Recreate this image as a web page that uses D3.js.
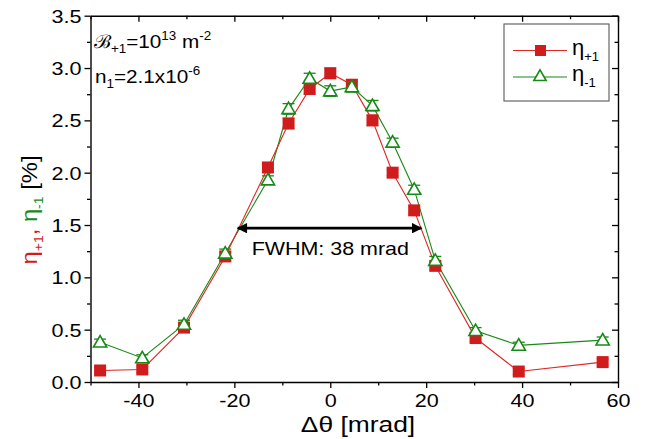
<!DOCTYPE html>
<html>
<head>
<meta charset="utf-8">
<script src="https://cdn.jsdelivr.net/npm/d3@7"></script>
<style>
  body { margin: 0; background: #fff; }
  text { font-family: "Liberation Sans", Arial, sans-serif; }
</style>
</head>
<body>
<svg id="chart" width="645" height="439"></svg>
<script>
// data
const dTheta = [-48, -39.2, -30.5, -21.9, -13, -8.7, -4.3, 0, 4.5, 8.8, 13, 17.5, 21.9, 30.3, 39.3, 56.8];
const etaPlus = [0.11, 0.12, 0.52, 1.20, 2.05, 2.47, 2.80, 2.95, 2.84, 2.50, 2.00, 1.64, 1.11, 0.42, 0.10, 0.19];
const etaMinus = [0.38, 0.23, 0.55, 1.23, 1.93, 2.61, 2.90, 2.78, 2.82, 2.64, 2.29, 1.84, 1.16, 0.49, 0.35, 0.40];
const errPlus = [0.03, 0.03, 0.04, 0.04, 0.04, 0.05, 0.05, 0.05, 0.05, 0.05, 0.03, 0.04, 0.04, 0.03, 0.03, 0.03];
const errMinus = [0.03, 0.03, 0.04, 0.04, 0.04, 0.05, 0.05, 0.05, 0.05, 0.05, 0.04, 0.04, 0.04, 0.03, 0.03, 0.03];
const xTicks = [-50, -40, -30, -20, -10, 0, 10, 20, 30, 40, 50, 60];
const yTicks = [0, 0.25, 0.5, 0.75, 1, 1.25, 1.5, 1.75, 2, 2.25, 2.5, 2.75, 3, 3.25, 3.5];
const fwhm = [-19.3, 19];   // arrow ends
const fwhmY = 1.47;

const RED = "#d01c1c", RED_LINE = "#e02525", RED_ERR = "#ec8a8a";
const GREEN = "#168a16";
const SX = 1.2;   // the original font is wider than Arial

const svg = d3.select("#chart");
const L = 90.5, R = 618, T = 15.7, B = 382;

const x = d3.scaleLinear().domain([-50, 60]).range([L, R]);
const y = d3.scaleLinear().domain([0, 3.5]).range([B, T]);

const isMajorX = v => v % 20 === 0;
const isMajorY = v => Math.abs(v * 2 - Math.round(v * 2)) < 1e-9;

function styleAxis(g) {
  g.select(".domain").attr("stroke", "#000").attr("stroke-width", 1.4);
  g.selectAll(".tick line").attr("stroke", "#000").attr("stroke-width", 1.3);
  g.selectAll(".tick text").attr("font-size", 18).attr("fill", "#000");
}

// bottom axis
const gB = svg.append("g").attr("transform", `translate(0,${B})`)
  .call(d3.axisBottom(x).tickValues(xTicks).tickSizeOuter(0)
    .tickFormat(v => isMajorX(v) ? String(v) : ""));
styleAxis(gB);
gB.selectAll(".tick line").attr("y2", d => isMajorX(d) ? 6 : 3.5);
gB.selectAll(".tick text").attr("y", 12).attr("transform", `scale(${SX},1)`);

// top axis (inward ticks)
const gT = svg.append("g").attr("transform", `translate(0,${T})`)
  .call(d3.axisTop(x).tickValues(xTicks).tickSizeOuter(0).tickFormat(""));
styleAxis(gT);
gT.selectAll(".tick line").attr("y2", d => isMajorX(d) ? 6 : 3.5);

// left axis
const gL = svg.append("g").attr("transform", `translate(${L},0)`)
  .call(d3.axisLeft(y).tickValues(yTicks).tickSizeOuter(0)
    .tickFormat(v => isMajorY(v) ? d3.format(".1f")(v) : ""));
styleAxis(gL);
gL.selectAll(".tick line").attr("x2", d => isMajorY(d) ? -6 : -3.5);
gL.selectAll(".tick text").attr("x", -9 / SX).attr("dy", "0.36em").attr("transform", `scale(${SX},1)`);

// right axis (inward ticks)
const gR = svg.append("g").attr("transform", `translate(${R},0)`)
  .call(d3.axisRight(y).tickValues(yTicks).tickSizeOuter(0).tickFormat(""));
styleAxis(gR);
gR.selectAll(".tick line").attr("x2", d => isMajorY(d) ? -6 : -3.5);

// series
const idx = d3.range(dTheta.length);
const line = vals => d3.line().x(i => x(dTheta[i])).y(i => y(vals[i]))(idx);

svg.append("path").attr("d", line(etaMinus)).attr("fill", "none")
  .attr("stroke", GREEN).attr("stroke-width", 1.1);
svg.append("path").attr("d", line(etaPlus)).attr("fill", "none")
  .attr("stroke", RED_LINE).attr("stroke-width", 1.1);

function errorBars(vals, errs, color) {
  const g = svg.append("g").attr("stroke", color).attr("stroke-width", 1.3);
  idx.forEach(i => {
    const cx = x(dTheta[i]);
    const y1 = y(vals[i] + errs[i]), y2 = y(vals[i] - errs[i]);
    g.append("line").attr("x1", cx).attr("x2", cx).attr("y1", y1).attr("y2", y2);
    g.append("line").attr("x1", cx - 6).attr("x2", cx + 6).attr("y1", y1).attr("y2", y1);
    g.append("line").attr("x1", cx - 6).attr("x2", cx + 6).attr("y1", y2).attr("y2", y2);
  });
}

errorBars(etaPlus, errPlus, RED_ERR);
svg.append("g").selectAll("rect").data(idx).join("rect")
  .attr("x", i => x(dTheta[i]) - 6).attr("y", i => y(etaPlus[i]) - 6)
  .attr("width", 12).attr("height", 12).attr("fill", RED);

const tri = d3.symbol().type(d3.symbolTriangle).size(76);
errorBars(etaMinus, errMinus, GREEN);
svg.append("g").selectAll("path").data(idx).join("path")
  .attr("d", tri)
  .attr("transform", i => `translate(${x(dTheta[i])},${y(etaMinus[i]) + 1})`)
  .attr("fill", "#fff").attr("stroke", GREEN).attr("stroke-width", 1.6);

// FWHM arrow
const defs = svg.append("defs");
defs.append("marker").attr("id", "ah").attr("viewBox", "0 0 10 10")
  .attr("refX", 9).attr("refY", 5).attr("markerWidth", 5).attr("markerHeight", 4)
  .attr("orient", "auto-start-reverse").attr("markerUnits", "strokeWidth")
  .append("path").attr("d", "M0,0 L10,5 L0,10 Z").attr("fill", "#000");
svg.append("line")
  .attr("x1", x(fwhm[0])).attr("x2", x(fwhm[1]))
  .attr("y1", y(fwhmY)).attr("y2", y(fwhmY))
  .attr("stroke", "#000").attr("stroke-width", 2.6)
  .attr("marker-start", "url(#ah)").attr("marker-end", "url(#ah)");
svg.append("text")
  .attr("transform", `translate(${x(0)},${y(fwhmY) + 27}) scale(1.16,1)`)
  .attr("text-anchor", "middle").attr("font-size", 18.5).text("FWHM: 38 mrad");

// parameter annotation
const ann = svg.append("g").attr("font-size", 18.5).attr("fill", "#000");
const t1 = ann.append("text").attr("transform", "translate(94,48) scale(1.12,1)");
t1.append("tspan").attr("font-family", "DejaVu Sans").attr("font-weight", 200).text("ℬ");
t1.append("tspan").attr("font-size", 12).attr("dy", 5).text("+1");
t1.append("tspan").attr("dy", -5).text("=10");
t1.append("tspan").attr("font-size", 12).attr("dy", -8).text("13");
t1.append("tspan").attr("dy", 8).text(" m");
t1.append("tspan").attr("font-size", 12).attr("dy", -8).text("-2");
const t2 = ann.append("text").attr("transform", "translate(95,83) scale(1.12,1)");
t2.append("tspan").text("n");
t2.append("tspan").attr("font-size", 12).attr("dy", 5).text("1");
t2.append("tspan").attr("dy", -5).text("=2.1x10");
t2.append("tspan").attr("font-size", 12).attr("dy", -8).text("-6");

// legend
const lg = svg.append("g");
lg.append("rect").attr("x", 504).attr("y", 24).attr("width", 105).attr("height", 77)
  .attr("fill", "#fff").attr("stroke", "#666").attr("stroke-width", 1.2);
const legendItems = [
  { name: "+1", color: RED_LINE, cy: 50.5, marker: "square" },
  { name: "-1", color: GREEN, cy: 77, marker: "triangle" }
];
legendItems.forEach(it => {
  lg.append("line").attr("x1", 513).attr("x2", 567).attr("y1", it.cy).attr("y2", it.cy)
    .attr("stroke", it.color).attr("stroke-width", 1.1);
  if (it.marker === "square") {
    lg.append("rect").attr("x", 535).attr("y", it.cy - 5.5).attr("width", 11).attr("height", 11).attr("fill", RED);
  } else {
    lg.append("path").attr("d", d3.symbol().type(d3.symbolTriangle).size(66)())
      .attr("transform", `translate(540,${it.cy})`)
      .attr("fill", "#fff").attr("stroke", GREEN).attr("stroke-width", 1.6);
  }
  const t = lg.append("text").attr("x", 572).attr("y", it.cy + 4).attr("font-size", 22);
  t.append("tspan").text("η");
  t.append("tspan").attr("font-size", 13).attr("dy", 6).text(it.name);
});

// axis titles
svg.append("text").attr("transform", `translate(358,432) scale(${SX},1)`).attr("text-anchor", "middle")
  .attr("font-size", 22).text("Δθ [mrad]");

const yt = svg.append("text").attr("transform", "translate(37,210) rotate(-90) scale(1.08,1)")
  .attr("text-anchor", "middle").attr("font-size", 22);
yt.append("tspan").attr("fill", RED).text("η");
yt.append("tspan").attr("fill", RED).attr("font-size", 13).attr("dy", 6).text("+1");
yt.append("tspan").attr("fill", RED).attr("dy", -6).text(", ");
yt.append("tspan").attr("fill", GREEN).text("η");
yt.append("tspan").attr("fill", GREEN).attr("font-size", 13).attr("dy", 6).text("-1");
yt.append("tspan").attr("fill", "#000").attr("dy", -6).text(" [%]");
</script>
</body>
</html>
